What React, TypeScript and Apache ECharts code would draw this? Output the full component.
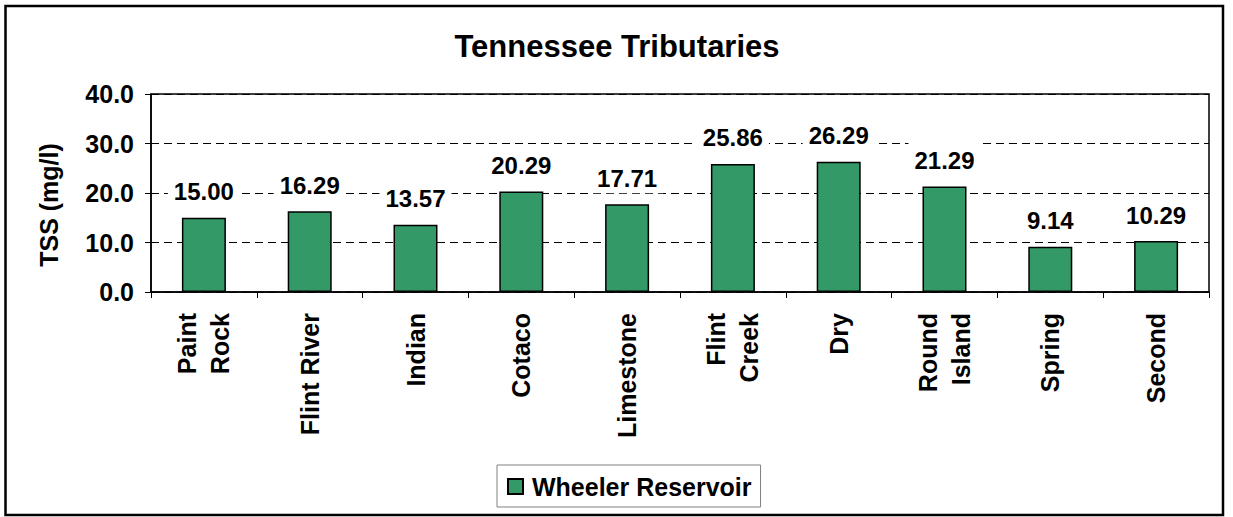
import React, { useEffect, useRef } from "react";
import * as echarts from "echarts";

const categories = ["Paint\nRock", "Flint River", "Indian", "Cotaco", "Limestone", "Flint\nCreek", "Dry", "Round\nIsland", "Spring", "Second"];
const wheelerValues = [15.0, 16.29, 13.57, 20.29, 17.71, 25.86, 26.29, 21.29, 9.14, 10.29];
const yTicks = { min: 0, max: 40, interval: 10 };
const titleText = "Tennessee Tributaries";
const yName = "TSS (mg/l)";
const seriesName = "Wheeler Reservoir";

const FONT = "Arial, 'Liberation Sans', sans-serif";

export default function App() {
  const ref = useRef<HTMLDivElement>(null);
  useEffect(() => {
    if (!ref.current) return;
    const chart = echarts.init(ref.current, null, { renderer: "svg" });
    chart.setOption({
      animation: false,
      backgroundColor: "#ffffff",
      title: {
        text: titleText,
        left: 612,
        textAlign: "center",
        top: 26,
        textStyle: { fontFamily: FONT, fontWeight: "bold", fontSize: 31, color: "#000" },
      },
      grid: {
        left: 151,
        top: 94,
        right: 24,
        bottom: 225,
        show: true,
        borderColor: "#000",
        borderWidth: 1.5,
        backgroundColor: "transparent",
      },
      legend: {
        data: [seriesName],
        left: 497,
        top: 465,
        padding: [9, 9, 8, 10],
        itemWidth: 15,
        itemHeight: 15,
        itemGap: 10,
        borderColor: "#808080",
        borderWidth: 1,
        icon: "rect",
        textStyle: { fontFamily: FONT, fontWeight: "bold", fontSize: 25, color: "#000", padding: [0, 0, 0, 4] },
      },
      xAxis: {
        type: "category",
        data: categories,
        axisLine: { show: true, lineStyle: { color: "#000", width: 1.5 } },
        axisTick: { show: true, alignWithLabel: false, length: 6, lineStyle: { color: "#000", width: 1 } },
        axisLabel: {
          rotate: 90,
          interval: 0,
          margin: 21,
          fontFamily: FONT,
          fontWeight: "bold",
          fontSize: 25,
          lineHeight: 33,
          color: "#000",
        },
      },
      yAxis: {
        type: "value",
        min: yTicks.min,
        max: yTicks.max,
        interval: yTicks.interval,
        axisLine: { show: true, lineStyle: { color: "#000", width: 1.5 } },
        axisTick: { show: true, inside: false, length: 6, lineStyle: { color: "#000", width: 1 } },
        axisLabel: {
          margin: 17,
          fontFamily: FONT,
          fontWeight: "bold",
          fontSize: 25,
          color: "#000",
          formatter: (v: number) => v.toFixed(1),
        },
        splitLine: { show: true, lineStyle: { color: "#000", width: 1, type: [8, 5] } },
      },
      graphic: [
        {
          type: "rect",
          shape: { x: 5.5, y: 6, width: 1217.5, height: 509 },
          style: { fill: "none", stroke: "#000", lineWidth: 2.5 },
          silent: true,
        },
        {
          type: "text",
          x: 49,
          y: 205,
          rotation: Math.PI / 2,
          style: {
            text: yName,
            fontFamily: FONT,
            fontWeight: "bold",
            fontSize: 25,
            fill: "#000",
            align: "center",
            verticalAlign: "middle",
          },
        },
      ],
      series: [
        {
          name: seriesName,
          type: "bar",
          data: wheelerValues,
          barWidth: 44,
          itemStyle: { color: "#339966", borderColor: "#000", borderWidth: 1.5 },
          label: {
            show: true,
            position: "top",
            distance: 11,
            fontFamily: FONT,
            fontWeight: "bold",
            fontSize: 24,
            color: "#000",
            backgroundColor: "#ffffff",
            padding: [9, 6, 3, 6],
            formatter: (p: any) => Number(p.value).toFixed(2),
          },
        },
      ],
    });
    return () => chart.dispose();
  }, []);
  return <div ref={ref} style={{ position: "fixed", left: 0, top: 0, width: 1233, height: 517 }} />;
}
